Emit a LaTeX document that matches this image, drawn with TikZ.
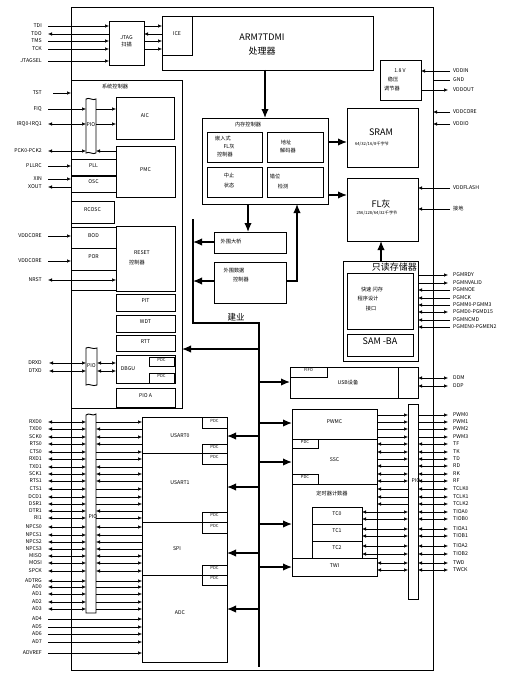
\documentclass[tikz,border=0pt]{standalone}
\usepackage{fontspec}
\setmainfont{Noto Sans CJK SC}
\usetikzlibrary{arrows.meta,fit}
\newcommand\fsm{\fontsize{5.2}{6}\selectfont}
\newcommand\ftn{\fontsize{4.2}{5}\selectfont}
\newcommand\fbg{\fontsize{9}{10.5}\selectfont}
\tikzset{
 bx/.style={draw,line width=0.9pt,inner sep=0pt,outer sep=0pt,align=center,font=\fsm},
 ob/.style={draw,line width=0.7pt,inner sep=0pt,outer sep=0pt},
 pdc/.style={bx,font=\ftn},
 ll/.style={anchor=east,font=\fsm,inner sep=0pt},
 rl/.style={anchor=west,font=\fsm,inner sep=0pt},
 tx/.style={font=\fsm,inner sep=0pt},
 big/.style={font=\fbg,inner sep=0pt},
 sig/.style={line width=0.5pt,-{Latex[length=4pt,width=3.4pt]}},
 dbl/.style={line width=0.5pt,{Latex[length=4pt,width=3.4pt]}-{Latex[length=4pt,width=3.4pt]}},
 pl/.style={line width=0.5pt},
 bus/.style={line width=1.4pt},
 busar/.style={line width=1.4pt,-{Latex[length=9pt,width=7.5pt]}},
}
\begin{document}
\begin{tikzpicture}[x=1pt,y=-1pt]
\useasboundingbox (0,0) rectangle (506,677);
% chip outline
\node[ob,fit={(71,7)(433,670)}] (chip) {};

% ARM, ICE, JTAG
\node[bx,fit={(162,16)(373,70)}] (arm) {};
\node[big] (armt) at (262,37) {ARM7TDMI};
\node[big] (armp) at (262,51) {处理器};
\node[bx,fit={(162,16)(192,55)}] (ice) {ICE};
\node[bx,fit={(109,21)(144,65)}] (jtag) {JTAG\\[1pt]扫描};
\foreach \n/\y in {TDI/26,TDO/34,TMS/41,TCK/49,JTAGSEL/61} \node[ll] (j\n) at (42,\y) {\n};
\draw[sig] (48,26) -- (109,26);
\draw[sig] (109,34) -- (48,34);
\draw[sig] (48,41) -- (109,41);
\draw[sig] (48,49) -- (109,49);
\draw[sig] (48,61) -- (109,61);
\draw[sig] (144,26) -- (162,26);
\draw[sig] (162,34) -- (144,34);
\draw[sig] (144,41) -- (162,41);
\draw[sig] (144,49) -- (162,49);

% system controller
\node[bx,fit={(71,80)(182,408)}] (sysc) {};
\node[tx] (syst) at (115,87) {系统控制器};
\node[bx,fit={(116,97)(174,139)}] (aic) {AIC};
\node[bx,fit={(116,146)(175,197)}] (pmc) {PMC};
\node[bx,fit={(71,159)(116,175)}] (pll) {PLL};
\node[bx,fit={(71,176)(116,192)}] (osc) {OSC};
\node[bx,fit={(71,201)(114,223)}] (rcosc) {RCOSC};
\node[bx,fit={(71,227)(116,248)}] (bod) {BOD};
\node[bx,fit={(71,248)(116,270)}] (por) {POR};
\node[bx,fit={(71,270)(116,290)}] (rstx) {};
\node[bx,fit={(116,226)(175,291)}] (reset) {};
\node[tx] (rst1) at (142,253) {RESET};
\node[tx] (rst2) at (137,263) {控制器};
\node[bx,fit={(116,294)(175,311)}] (pit) {PIT};
\node[bx,fit={(116,315)(175,332)}] (wdt) {WDT};
\node[bx,fit={(116,335)(175,351)}] (rtt) {RTT};
\node[bx,fit={(116,355)(175,383)}] (dbgu) {};
\node[tx] (dbgut) at (128,369) {DBGU};
\node[pdc,fit={(149,357)(174,366)}] (pdcd1) {PDC};
\node[pdc,fit={(149,373)(174,383)}] (pdcd2) {PDC};
\node[bx,fit={(116,388)(175,407)}] (pioa) {PIO A};

% PIO columns of the system controller
\draw[line width=0.9pt] (86,99) .. controls (89,97) and (93,101) .. (96,99) -- (96,153) .. controls (93,155) and (89,151) .. (86,153) -- cycle;
\node[tx] (pio1) at (91,125) {PIO};
\draw[line width=0.9pt] (86,348) .. controls (89,346) and (93,350) .. (97,348) -- (97,385) .. controls (93,387) and (89,383) .. (86,385) -- cycle;
\node[tx] (pio2) at (91.5,366) {PIO};

% system controller signals
\node[ll] at (42,93) {TST};
\draw[sig] (53,93) -- (71,93);
\node[ll] at (42,109) {FIQ};
\draw[sig] (48,109) -- (86,109);
\draw[sig] (96,109) -- (116,109);
\node[ll] at (42,124) {IRQ0-IRQ1};
\draw[dbl] (48,124) -- (86,124);
\draw[sig] (96,124) -- (116,124);
\node[ll] at (42,151) {PCK0-PCK2};
\draw[dbl] (48,151) -- (86,151);
\draw[sig] (116,151) -- (96,151);
\node[ll] at (42,166) {PLLRC};
\draw[sig] (48,166) -- (71,166);
\node[ll] at (42,179) {XIN};
\draw[sig] (48,179) -- (71,179);
\node[ll] at (42,187) {XOUT};
\draw[sig] (71,187) -- (48,187);
\node[ll] at (42,236) {VDDCORE};
\draw[sig] (48,236) -- (71,236);
\node[ll] at (42,261) {VDDCORE};
\draw[sig] (48,261) -- (71,261);
\node[ll] at (42,280) {NRST};
\draw[dbl] (48,280) -- (116,280);
\node[ll] at (42,363) {DRXD};
\node[ll] at (42,371) {DTXD};
\draw[dbl] (49,363) -- (86,363);
\draw[dbl] (49,371) -- (86,371);
\draw[dbl] (97,363) -- (116,363);
\draw[dbl] (97,371) -- (116,371);

% memory controller
\node[bx,fit={(202,118)(328,204)}] (memc) {};
\node[tx] (memt) at (248,125) {内存控制器};
\node[bx,fit={(207,132)(262,162)}] (efc) {};
\node[tx] at (223,139) {嵌入式};
\node[tx] at (229,147) {FL灰};
\node[tx] at (225,155) {控制器};
\node[bx,fit={(267,132)(323,162)}] (addr) {};
\node[tx] at (286,142) {地址};
\node[tx] at (288,151) {解码器};
\node[bx,fit={(207,167)(262,197)}] (abort) {};
\node[tx] at (229,176) {中止};
\node[tx] at (229,186) {状态};
\node[bx,fit={(267,167)(323,197)}] (misal) {};
\node[tx] at (275,176) {错位};
\node[tx] at (283,187) {检测};
\node[bx,fit={(214,232)(286,253)}] (apb) {};
\node[tx] at (231,242) {外围大桥};
\node[bx,fit={(214,262)(286,303)}] (pdcc) {};
\node[tx] at (234,271) {外围数据};
\node[tx] at (241,280) {控制器};

% memories
\node[bx,fit={(347,108)(418,167)}] (sram) {};
\node[big] at (381,132) {SRAM};
\node[tx,font=\ftn] at (372,144) {64/32/16/8千字节};
\node[bx,fit={(347,178)(418,241)}] (flash) {};
\node[big] at (381,204) {FL灰};
\node[tx,font=\ftn] at (377,213) {256/128/64/32千字节};
\node[bx,fit={(343,261)(418,361)}] (rom) {};
\node[big,anchor=east] (romt) at (417,267) {只读存储器};
\node[bx,fit={(347,273)(413,329)}] (fpi) {};
\node[tx] at (372,290) {快速 闪存};
\node[tx] at (368,299) {程序设计};
\node[tx] at (371,309) {接口};
\node[bx,fit={(347,334)(413,356)},font=\fbg] (samba) {SAM -BA};

% regulator
\node[bx,fit={(380,60)(421,100)}] (reg) {};
\node[tx] at (400,71) {1.8 V};
\node[tx] at (393,79.5) {稳压};
\node[tx] at (392,89) {调节器};

% buses and big arrows
\draw[busar] (265,70) -- (265,118);
\draw[busar] (328,142) -- (347,142);
\draw[busar] (328,195) -- (347,195);
\draw[busar] (248,204) -- (248,232);
\draw[busar] (286,281) -- (297,281) -- (297,204);
\draw[busar] (214,242) -- (193,242);
\draw[busar] (214,281) -- (193,281);
\draw[busar] (381,261) -- (381,241);
\draw[bus] (193,219) -- (193,323) -- (259,323) -- (259,667);
\node[big,font=\fontsize{8.5}{9}\selectfont] (bust) at (236,317) {建业};
\draw[busar] (259,349) -- (182,349);
\draw[busar] (259,382) -- (290,382);
\draw[busar] (259,436) -- (227,436);
\draw[busar] (259,487) -- (227,487);
\draw[busar] (259,553) -- (227,553);
\draw[busar] (259,609) -- (227,609);
\draw[busar] (259,423) -- (292,423);
\draw[busar] (259,462) -- (292,462);
\draw[busar] (259,524) -- (292,524);
\draw[busar] (259,567) -- (292,567);

% USB
\node[bx,fit={(290,367)(418,398)}] (usb) {};
\draw[line width=0.9pt] (398,367) -- (398,398);
\node[pdc,fit={(290,367)(327,377)}] (fifo) {FIFO};
\node[tx] (usbt) at (348,383) {USB设备};
\draw[dbl] (418,378) -- (448,378);
\draw[dbl] (418,386) -- (448,386);
\node[rl] at (453,378) {DDM};
\node[rl] at (453,386) {DDP};

% right power / programming signals
\draw[sig] (450,71) -- (421,71);
\draw[pl] (433,80) -- (450,80);
\draw[sig] (421,90) -- (448,90);
\draw[sig] (450,112) -- (433,112);
\draw[sig] (450,124) -- (433,124);
\draw[sig] (450,188) -- (418,188);
\draw[sig] (450,209) -- (418,209);
\foreach \n/\y in {VDDIN/71,GND/80,VDDOUT/90,VDDCORE/112,VDDIO/124,VDDFLASH/188,接地/209} \node[rl] at (453,\y) {\n};
\draw[sig] (418,275) -- (448,275);
\draw[sig] (418,283) -- (448,283);
\foreach \y in {290,298,305,320,327} \draw[sig] (450,\y) -- (418,\y);
\draw[dbl] (418,312) -- (448,312);
\foreach \n/\y in {PGMRDY/275,PGMNVALID/283,PGMNOE/290,PGMCK/298,PGMM0-PGMM3/305,PGMD0-PGMD15/312,PGMNCMD/320,PGMEN0-PGMEN2/327} \node[rl] at (453,\y) {\n};

% left peripherals
\node[bx,fit={(142,417)(227,453)}] (us0) {};
\node[tx] at (180,436) {USART0};
\node[pdc,fit={(202,417)(227,428)}] {PDC};
\node[pdc,fit={(202,444)(227,453)}] {PDC};
\node[bx,fit={(142,453)(227,522)}] (us1) {};
\node[tx] at (180,483) {USART1};
\node[pdc,fit={(202,453)(227,464)}] {PDC};
\node[pdc,fit={(202,512)(227,522)}] {PDC};
\node[bx,fit={(142,522)(227,575)}] (spi) {};
\node[tx] at (177,549) {SPI};
\node[pdc,fit={(202,522)(227,533)}] {PDC};
\node[pdc,fit={(202,565)(227,575)}] {PDC};
\node[bx,fit={(142,575)(227,662)}] (adc) {};
\node[tx] at (180,613) {ADC};
\node[pdc,fit={(202,575)(227,585)}] {PDC};

% left PIO
\draw[line width=0.9pt] (86,415) .. controls (89,412) and (93,417) .. (96,414) -- (96,613) -- (86,613) -- cycle;
\node[tx] (pio3) at (93,517) {PIO};
\foreach \n/\y in {RXD0/422,TXD0/429,SCK0/437,RTS0/444,CTS0/452,RXD1/459,TXD1/467,SCK1/474,RTS1/481,CTS1/489,DCD1/497,DSR1/504,DTR1/511,RI1/518,NPCS0/527,NPCS1/535,NPCS2/542,NPCS3/549,MISO/556,MOSI/563,SPCK/571,ADTRG/581,AD0/587,AD1/594,AD2/602,AD3/609}
 {\node[ll] at (42,\y) {\n}; \draw[dbl] (48,\y) -- (86,\y);}
\foreach \y in {422,452,459,489,497,504,518,581,587,594,602,609} \draw[sig] (96,\y) -- (142,\y);
\foreach \y in {429,444,467,481,511,535,542,549} \draw[sig] (142,\y) -- (96,\y);
\foreach \y in {437,474,527,556,563,571} \draw[dbl] (96,\y) -- (142,\y);
\foreach \n/\y in {AD4/619,AD5/627,AD6/634,AD7/642,ADVREF/653}
 {\node[ll] at (42,\y) {\n}; \draw[sig] (48,\y) -- (142,\y);}

% right peripherals
\node[bx,fit={(292,409)(377,439)}] (pwmc) {PWMC};
\node[bx,fit={(292,439)(377,484)}] (ssc) {SSC};
\node[pdc,fit={(292,439)(318,448)}] {PDC};
\node[pdc,fit={(292,474)(318,484)}] {PDC};
\node[bx,fit={(292,484)(377,558)}] (tc) {};
\node[tx] at (332,494) {定时器计数器};
\node[bx,fit={(312,507)(362,524)}] (tc0) {TC0};
\node[bx,fit={(312,524)(362,541)}] (tc1) {TC1};
\node[bx,fit={(312,541)(362,558)}] (tc2) {TC2};
\node[bx,fit={(292,558)(377,576)}] (twi) {TWI};

% right PIO
\node[bx,fit={(408,404)(418,599)}] (pio4) {};
\node[tx] (pio4t) at (416,481) {PIO};
\foreach \n/\y in {PWM0/415,PWM1/422,PWM2/429,PWM3/437}
 {\draw[sig] (377,\y) -- (408,\y); \draw[sig] (418,\y) -- (448,\y); \node[rl] at (453,\y) {\n};}
\foreach \n/\y in {TF/444,TK/452,TD/459,RD/466,RK/474,RF/481,TCLK0/489,TCLK1/497,TCLK2/504,TIOA0/512,TIOB0/519,TIOA1/529,TIOB1/536,TIOA2/546,TIOB2/554,TWD/563,TWCK/570}
 {\draw[dbl] (418,\y) -- (448,\y); \node[rl] at (453,\y) {\n};}
\foreach \y in {444,452,474,481,563,570} \draw[dbl] (377,\y) -- (408,\y);
\draw[sig] (377,459) -- (408,459);
\foreach \y in {466,489,497,504} \draw[sig] (408,\y) -- (377,\y);
\foreach \y in {512,519,529,536,546,554} \draw[dbl] (362,\y) -- (408,\y);
\end{tikzpicture}
\end{document}
